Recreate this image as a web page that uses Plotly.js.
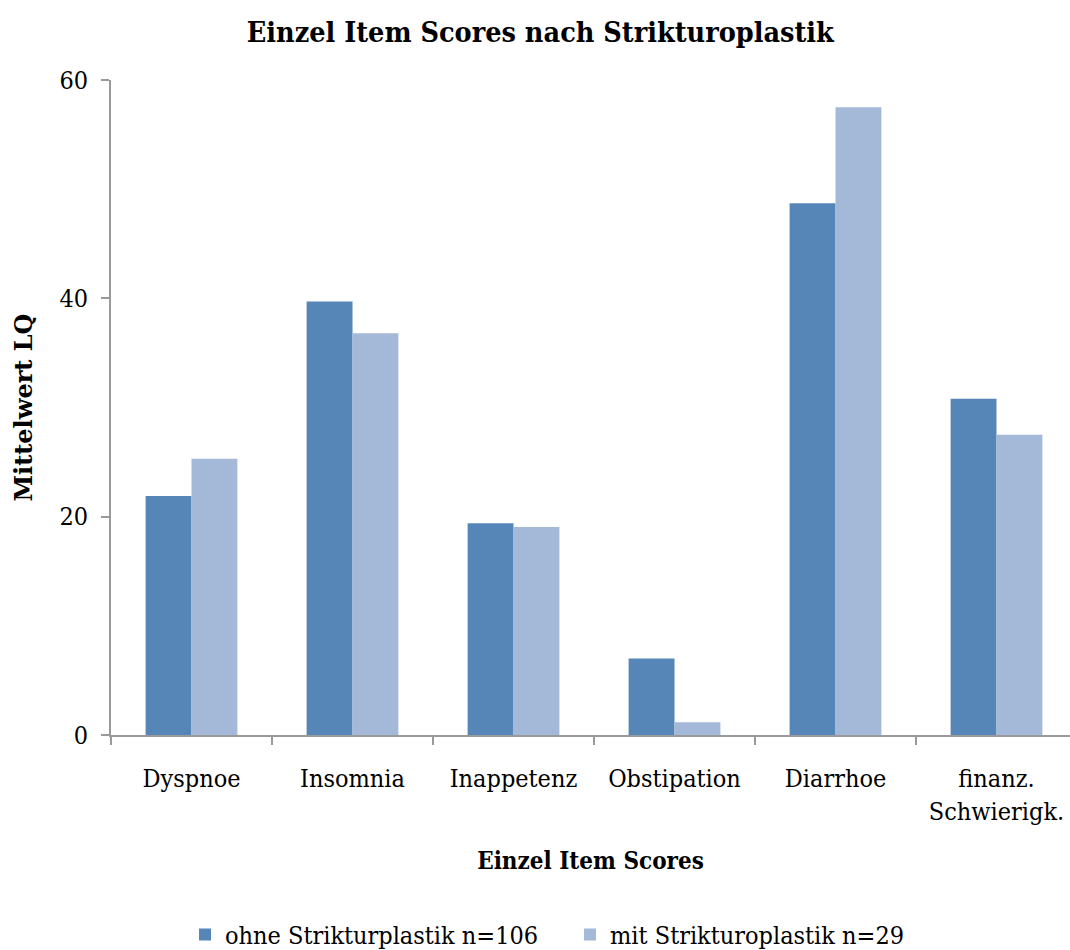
<!DOCTYPE html>
<html>
<head>
<meta charset="utf-8">
<script src="https://cdn.plot.ly/plotly-3.0.1.min.js"></script>
<style>html,body{margin:0;padding:0;background:#fff;}#chart{width:1070px;height:950px;}</style>
</head>
<body>
<div id="chart"></div>
<script>
const categories = ["Dyspnoe", "Insomnia", "Inappetenz", "Obstipation", "Diarrhoe", "finanz.<br>Schwierigk."];
const ohneValues = [21.9, 39.7, 19.4, 7.0, 48.7, 30.8];
const mitValues = [25.3, 36.8, 19.05, 1.16, 57.5, 27.5];
const seriesNames = ["ohne Strikturplastik n=106", "mit Strikturoplastik n=29"];
const yTicks = [0, 20, 40, 60];

const FONT = "DejaVu Serif Condensed, Liberation Serif, serif";
const FONT_WIDE = "DejaVu Serif, Liberation Serif, serif";

const data = [
  {type: "bar", x: categories, y: ohneValues, name: seriesNames[0],
   marker: {color: "#5586B7"}, hoverinfo: "y"},
  {type: "bar", x: categories, y: mitValues, name: seriesNames[1],
   marker: {color: "#A4B8D8"}, hoverinfo: "y"}
];

const layout = {
  width: 1070, height: 950,
  paper_bgcolor: "#fff", plot_bgcolor: "#fff",
  margin: {l: 111, r: 0, t: 80, b: 215, autoexpand: false},
  font: {family: FONT, color: "#000", size: 25},
  title: {text: "<b>Einzel Item Scores nach Strikturoplastik</b>", x: 0.505, xanchor: "center", y: 0.966, yanchor: "middle",
          font: {family: FONT, size: 28.5, color: "#000"}},
  barmode: "group", bargap: 0.43, bargroupgap: 0,
  showlegend: true,
  legend: {orientation: "h", x: 0.0772, xanchor: "left", y: -0.305, yanchor: "middle",
           font: {family: FONT, size: 25}, itemwidth: 30, tracegroupgap: 0,
           entrywidth: 340, entrywidthmode: "pixels"},
  xaxis: {
    type: "category",
    range: [-0.5, 5.4565],
    tickson: "boundaries",
    ticks: "outside", ticklen: 8, tickwidth: 2, tickcolor: "#9a9a9a",
    showline: true, linecolor: "#9a9a9a", linewidth: 2,
    showgrid: false, zeroline: false,
    tickfont: {family: FONT, size: 25},
    ticklabelstandoff: 20,
    title: {text: "<b>Einzel Item Scores</b>", font: {family: FONT, size: 24}, standoff: 28},
    fixedrange: true
  },
  yaxis: {
    range: [0, 60],
    tickvals: yTicks, ticktext: yTicks.map(String),
    ticks: "outside", ticklen: 8, tickwidth: 2, tickcolor: "#9a9a9a",
    showline: true, linecolor: "#9a9a9a", linewidth: 2,
    showgrid: false, zeroline: false,
    tickfont: {family: FONT, size: 25},
    ticklabelstandoff: 8,
    title: {text: "<b>Mittelwert LQ</b>", font: {family: FONT_WIDE, size: 24}, standoff: 20},
    fixedrange: true
  }
};

Plotly.newPlot("chart", data, layout, {displayModeBar: false, staticPlot: true});
</script>
</body>
</html>
